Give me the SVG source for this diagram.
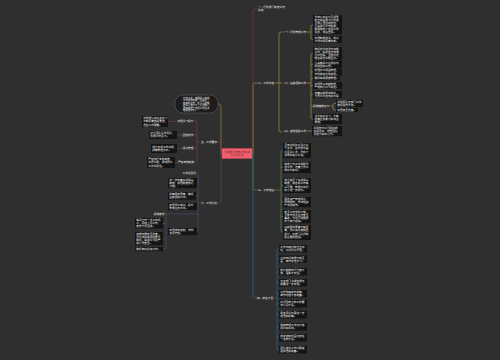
<svg xmlns="http://www.w3.org/2000/svg" width="500" height="360" viewBox="0 0 500 360">
<style>
.t{font-family:"Noto Sans CJK SC","Noto Sans",sans-serif;font-size:2.7px;fill:#f4f4f4}
.lb{font-family:"Noto Sans CJK SC","Noto Sans",sans-serif;font-size:2.7px;fill:#eeeeee}
.bx{fill:#141414}
.e{text-anchor:end}
</style>
<rect width="500" height="360" fill="#2f2f2f"/>
<g id="connectors" fill="none" stroke-width="0.8">
<path stroke="#6b3a3a" d="M252,153 H253 V11 Q253,9 255,9 H258"/>
<path stroke="#8a7b3c" d="M252,153 H253 V85 Q253,83 255,83 H258"/>
<path stroke="#2e6283" d="M252,153 H253 V296 Q253,298 255,298 H257"/>
<path stroke="#4e6e45" d="M252,153 H253 V188 Q253,190 255,190 H258"/>
<path stroke="#9a8540" d="M275,83 H282 M282,32 H281 Q279,32 279,34 V130 Q279,132 281,132 H282"/>
<path stroke="#9a8540" d="M307,32 H311 M313,25 H312.5 Q311,25 311,26.5 V38 Q311,39.5 312.5,39.5 H313"/>
<path stroke="#9a8540" d="M307,83 H311 M313,53.5 H312.5 Q311,53.5 311,55 V117.5 Q311,119 312.5,119 H313 M311,64.3 H313 M311,72 H313 M311,78.5 H313 M311,85.5 H313 M311,94.5 H313 M311,106 H313"/>
<path stroke="#9a8540" d="M331,106 H333 M336,103.5 H334.5 Q333,103.5 333,105 V108.5 Q333,110 334.5,110 H336"/>
<path stroke="#9a8540" d="M307,131 H312"/>
<path stroke="#5a7a45" d="M275,190 H281 M283,150.5 H282.5 Q281,150.5 281,152 V230.5 Q281,232 282.5,232 H283 M281,167.5 H283 M281,185.5 H283 M281,202 H283 M281,216.5 H283"/>
<path stroke="#2e6283" d="M274,298 H277 M279,248.8 H278.5 Q277,248.8 277,250.3 V348.3 Q277,349.8 278.5,349.8 H279 M277,259.3 H279 M277,271.8 H279 M277,282.8 H279 M277,293.8 H279 M277,303.8 H279 M277,314.8 H279 M277,326.8 H279 M277,337.8 H279"/>
<path stroke="#8a7b3c" d="M222,153 H221 V106 Q221,104 219,104 H218"/>
<path stroke="#6e3a58" d="M222,153 H221 V144 Q221,142 219,142 H217"/>
<path stroke="#4d4866" d="M222,153 H221 V201 Q221,203 219,203 H217"/>
<path stroke="#6e3a58" d="M200,142 H197 M194,121 H195.5 Q197,121 197,122.5 V160.5 Q197,162 195.5,162 H194 M197,135 H194 M197,148 H194 M175,121.5 H168 M183,135 H177 M183,148.5 H177 M178,162.5 H175"/>
<path stroke="#4d4866" d="M201,203 H198 M196,173 H196.5 Q198,173 198,174.5 V230 Q198,231.5 196.5,231.5 H197 M198,183 H197 M198,196 H196 M198,206.5 H197 M198,214 H165"/>
<path stroke="#4d4866" d="M165,214 H166 V247.5 Q166,249 164.5,249 H163 M166,223.5 H163 M166,238.5 H163"/>
</g>
<g id="center">
<rect x="222" y="148.5" width="30" height="10" fill="#f0606e" stroke="#d04858" stroke-width="0.5"/>
<text x="237" y="152.6" text-anchor="middle" style="font-family:'Noto Sans CJK SC',sans-serif;font-size:2.6px;fill:#7a1f28">行政部门年度工作总结<tspan x="237" dy="3.2">及计划范文</tspan></text>
</g>
<g id="r1"><text class="lb" x="258" y="7.5">一、行政部门年度工作<tspan x="258" dy="3.2">总结</tspan></text></g>
<g id="r2"><text class="lb" x="258" y="84">二、工作内容</text></g>
<g id="b2"><text class="lb" x="282" y="33">（一）行政管理工作</text></g>
<g id="b2a"><rect class="bx" x="313" y="15" width="29" height="19.5"/><text class="t" x="314.5" y="17.9">今年以来在公司领导<tspan x="314.5" dy="3.1">的正确指导下行政部</tspan><tspan x="314.5" dy="3.1">全体人员团结协作，</tspan><tspan x="314.5" dy="3.1">认真履行工作职责，</tspan><tspan x="314.5" dy="3.1">圆满完成了各项工作</tspan><tspan x="314.5" dy="3.1">任务，成绩显著。</tspan></text></g>
<g id="b2b"><rect class="bx" x="313" y="36" width="29" height="7.1"/><text class="t" x="314.5" y="38.9">加强制度建设，规范<tspan x="314.5" dy="3.1">工作流程提高效率。</tspan></text></g>
<g id="b3"><text class="lb" x="282" y="84">（二）后勤保障工作</text></g>
<g id="b3c1"><rect class="bx" x="313" y="47" width="29" height="13.3"/><text class="t" x="314.5" y="49.9">做好文件收发与归档<tspan x="314.5" dy="3.1">工作，确保信息畅通</tspan><tspan x="314.5" dy="3.1">及时准确，全年共处</tspan><tspan x="314.5" dy="3.1">理各类文件数百份。</tspan></text></g>
<g id="b3c2"><rect class="bx" x="313" y="60.8" width="29" height="7.1"/><text class="t" x="314.5" y="63.7">认真做好会议组织与<tspan x="314.5" dy="3.1">服务保障工作。</tspan></text></g>
<g id="b3c3"><rect class="bx" x="313" y="68.5" width="29" height="7.1"/><text class="t" x="314.5" y="71.4">加强办公用品管理，<tspan x="314.5" dy="3.1">节约成本杜绝浪费。</tspan></text></g>
<g id="b3c4"><rect class="bx" x="313" y="76.5" width="27" height="4"/><text class="t" x="314.5" y="79.4">做好车辆调度管理。</text></g>
<g id="b3c5"><rect class="bx" x="313" y="82" width="29" height="7.1"/><text class="t" x="314.5" y="84.9">加强员工考勤管理，<tspan x="314.5" dy="3.1">严格执行公司规定。</tspan></text></g>
<g id="b3c6"><rect class="bx" x="313" y="91" width="29" height="7.1"/><text class="t" x="314.5" y="93.9">完善后勤服务体系，<tspan x="314.5" dy="3.1">为员工创造良好环境</tspan></text></g>
<g id="b3c7"><text class="lb" x="313" y="107">具体措施如下：</text></g>
<g id="b3c7a"><rect class="bx" x="336" y="100" width="27" height="7.1"/><text class="t" x="337.3" y="102.9">积极配合各部门工作<tspan x="337.3" dy="3.1">做好接待工作。</tspan></text></g>
<g id="b3c7b"><rect class="bx" x="336" y="108" width="22" height="4"/><text class="t" x="337.3" y="110.9">加强安全检查。</text></g>
<g id="b3c8"><rect class="bx" x="313" y="114" width="29" height="10.2"/><text class="t" x="314.5" y="116.9">注重自身学习，不断<tspan x="314.5" dy="3.1">提高业务能力和综合</tspan><tspan x="314.5" dy="3.1">素质。</tspan></text></g>
<g id="b4"><text class="lb" x="282" y="132">（三）其他相关工作</text></g>
<g id="b4c1"><rect class="bx" x="312" y="126" width="30" height="10.2"/><text class="t" x="313.5" y="128.9">积极参与公司组织的<tspan x="313.5" dy="3.1">各项活动，增强团队</tspan><tspan x="313.5" dy="3.1">凝聚力和向心力。</tspan></text></g>
<g id="r3"><text class="lb" x="258" y="191">三、工作成绩</text></g>
<g id="r3c1"><rect class="bx" x="283" y="143" width="28" height="15"/><text class="t" x="284.3" y="146.3">全年共组织大型会议<tspan x="284.3" dy="3.1">十余次，接待来访客</tspan><tspan x="284.3" dy="3.1">户百余人次，得到了</tspan><tspan x="284.3" dy="3.1">领导的充分肯定。</tspan></text></g>
<g id="r3c2"><rect class="bx" x="283" y="162" width="28" height="11"/><text class="t" x="284.3" y="165.2">完成了办公环境的改<tspan x="284.3" dy="3.1">造工作，改善了员工</tspan><tspan x="284.3" dy="3.1">的办公条件。</tspan></text></g>
<g id="r3c3"><rect class="bx" x="283" y="178" width="28" height="15"/><text class="t" x="284.3" y="181.3">建立健全了各项规章<tspan x="284.3" dy="3.1">制度，使各项工作有</tspan><tspan x="284.3" dy="3.1">章可循，管理水平得</tspan><tspan x="284.3" dy="3.1">到了进一步提升。</tspan></text></g>
<g id="r3c4"><rect class="bx" x="283" y="197" width="28" height="10.2"/><text class="t" x="284.3" y="199.9">固定资产管理规范，<tspan x="284.3" dy="3.1">账物相符，未出现资</tspan><tspan x="284.3" dy="3.1">产流失现象。</tspan></text></g>
<g id="r3c5"><rect class="bx" x="283" y="210" width="28" height="13.3"/><text class="t" x="284.3" y="212.9">安全工作常抓不懈，<tspan x="284.3" dy="3.1">全年未发生任何安全</tspan><tspan x="284.3" dy="3.1">事故，为公司发展提</tspan><tspan x="284.3" dy="3.1">供了有力保障。</tspan></text></g>
<g id="r3c6"><rect class="bx" x="283" y="225" width="28" height="15"/><text class="t" x="284.3" y="228.3">后勤服务质量不断提<tspan x="284.3" dy="3.1">高，员工满意度明显</tspan><tspan x="284.3" dy="3.1">提升，各部门之间的</tspan><tspan x="284.3" dy="3.1">配合更加默契。</tspan></text></g>
<g id="r4"><text class="lb" x="257" y="299">四、存在不足</text></g>
<g id="r4c1"><rect class="bx" x="279" y="245" width="28" height="7.5"/><text class="t" x="280.3" y="248">工作中有时缺乏主动<tspan x="280.3" dy="3.1">性，创新意识不强。</tspan></text></g>
<g id="r4c2"><rect class="bx" x="279" y="255.5" width="28" height="7.5"/><text class="t" x="280.3" y="258.5">业务知识掌握不够全<tspan x="280.3" dy="3.1">面，有待加强学习。</tspan></text></g>
<g id="r4c3"><rect class="bx" x="279" y="268" width="28" height="7.5"/><text class="t" x="280.3" y="271">部分制度执行力度不<tspan x="280.3" dy="3.1">够，落实不到位。</tspan></text></g>
<g id="r4c4"><rect class="bx" x="279" y="279" width="28" height="7.5"/><text class="t" x="280.3" y="282">与各部门沟通协调还<tspan x="280.3" dy="3.1">需要进一步加强。</tspan></text></g>
<g id="r4c5"><rect class="bx" x="279" y="290" width="28" height="7.5"/><text class="t" x="280.3" y="293">工作效率有待提高，<tspan x="280.3" dy="3.1">细节处理不够完善。</tspan></text></g>
<g id="r4c6"><rect class="bx" x="279" y="300" width="28" height="7.5"/><text class="t" x="280.3" y="303">对新形势下的工作要<tspan x="280.3" dy="3.1">求认识不足。</tspan></text></g>
<g id="r4c7"><rect class="bx" x="279" y="311" width="28" height="7.5"/><text class="t" x="280.3" y="314">服务意识还需进一步<tspan x="280.3" dy="3.1">增强和提高。</tspan></text></g>
<g id="r4c8"><rect class="bx" x="279" y="323" width="28" height="7.5"/><text class="t" x="280.3" y="326">档案管理工作还不够<tspan x="280.3" dy="3.1">规范和系统。</tspan></text></g>
<g id="r4c9"><rect class="bx" x="279" y="334" width="28" height="7.5"/><text class="t" x="280.3" y="337">成本控制方面还存在<tspan x="280.3" dy="3.1">一定的不足。</tspan></text></g>
<g id="r4c10"><rect class="bx" x="279" y="346" width="28" height="7.5"/><text class="t" x="280.3" y="349">团队建设工作仍需继<tspan x="280.3" dy="3.1">续加强和完善。</tspan></text></g>
<g id="l1"><rect x="175" y="95" width="43" height="18" rx="8" fill="#1c1c1c" stroke="#6a6a6a" stroke-width="0.5"/><text class="t" x="183" y="98.6" style="font-size:2.4px">时光飞逝，转眼间一年的<tspan x="183" dy="2.5">工作即将结束，回顾这一</tspan><tspan x="183" dy="2.5">年来的工作，在公司领导</tspan><tspan x="183" dy="2.5">的关心支持下，行政部门</tspan><tspan x="183" dy="2.5">圆满完成了各项工作任务</tspan><tspan x="183" dy="2.5">现总结如下。</tspan></text></g>
<g id="l2"><text class="lb e" x="217" y="143">五、工作要求</text></g>
<g id="l2a"><text class="lb e" x="193.5" y="122">加强学习提升</text></g>
<g id="l2b"><text class="lb e" x="193.5" y="136">团结协作</text></g>
<g id="l2c"><text class="lb e" x="193.5" y="149">规范管理</text></g>
<g id="l2d"><text class="lb e" x="194" y="163">严格考核制度</text></g>
<g id="l2a1"><rect class="bx" x="142" y="116" width="26" height="11"/><text class="t" x="143.2" y="119.3">加强理论和业务学习<tspan x="143.2" dy="3.1">不断提高自身素质，</tspan><tspan x="143.2" dy="3.1">适应工作需要。</tspan></text></g>
<g id="l2b1"><rect class="bx" x="149" y="131" width="28" height="8"/><text class="t" x="150.3" y="134.2">树立团队合作意识，<tspan x="150.3" dy="3.1">形成工作合力。</tspan></text></g>
<g id="l2c1"><rect class="bx" x="151" y="144" width="26" height="9"/><text class="t" x="152.2" y="147.5">规范各项工作流程，<tspan x="152.2" dy="3.1">提高管理水平。</tspan></text></g>
<g id="l2d1"><rect class="bx" x="147" y="157" width="28" height="11"/><text class="t" x="148.3" y="160.3">严格执行考核制度，<tspan x="148.3" dy="3.1">奖罚分明，调动员工</tspan><tspan x="148.3" dy="3.1">工作积极性。</tspan></text></g>
<g id="l3"><text class="lb e" x="217" y="204">六、工作计划</text></g>
<g id="l3c1"><text class="lb e" x="196" y="174">工作总目标</text></g>
<g id="l3c2"><rect class="bx" x="168" y="178" width="29" height="10.2"/><text class="t" x="169.3" y="180.9">进一步完善各项规章<tspan x="169.3" dy="3.1">制度，加强制度执行</tspan><tspan x="169.3" dy="3.1">力度。</tspan></text></g>
<g id="l3c3"><rect class="bx" x="168" y="192" width="28" height="7.6"/><text class="t" x="169.3" y="195.1">提高服务质量，做好<tspan x="169.3" dy="3.1">后勤保障工作。</tspan></text></g>
<g id="l3c4"><rect class="bx" x="168" y="203" width="29" height="7.1"/><text class="t" x="169.3" y="205.9">加强员工培训，提升<tspan x="169.3" dy="3.1">整体业务水平。</tspan></text></g>
<g id="l3c5"><text class="lb e" x="164.5" y="215">具体安排</text></g>
<g id="l3c5a"><rect class="bx" x="135" y="218" width="28" height="10.5"/><text class="t" x="136.3" y="221">每月召开一次工作例<tspan x="136.3" dy="3.1">会，总结上月工作，</tspan><tspan x="136.3" dy="3.1">安排下月任务。</tspan></text></g>
<g id="l3c5b"><rect class="bx" x="135" y="232" width="28" height="13.3"/><text class="t" x="136.3" y="234.9">定期开展安全检查，<tspan x="136.3" dy="3.1">及时发现和消除安全</tspan><tspan x="136.3" dy="3.1">隐患，确保公司财产</tspan><tspan x="136.3" dy="3.1">和人员安全。</tspan></text></g>
<g id="l3c5c"><rect class="bx" x="135" y="247" width="28" height="4.2"/><text class="t" x="136.3" y="250">做好年终总结工作。</text></g>
<g id="l3c6"><rect class="bx" x="168" y="228" width="29" height="7.1"/><text class="t" x="169.3" y="230.9">加强成本控制，节约<tspan x="169.3" dy="3.1">各项开支。</tspan></text></g>
</svg>
